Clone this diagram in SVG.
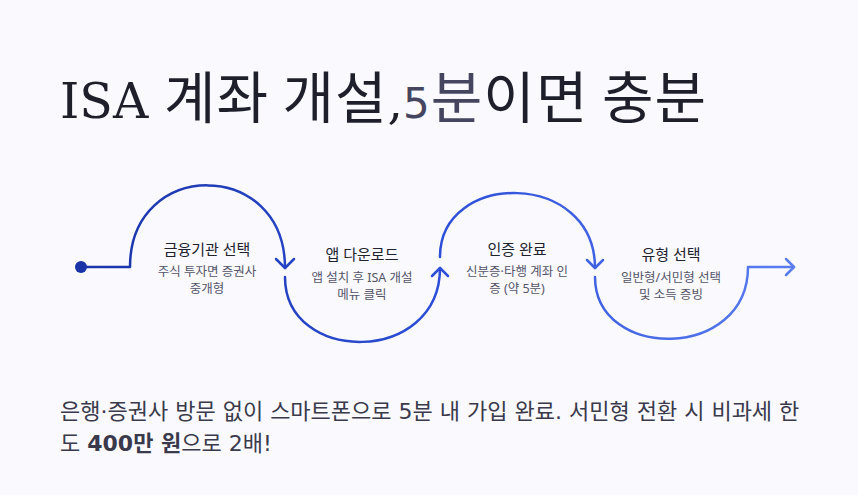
<svg xmlns="http://www.w3.org/2000/svg" width="858" height="495" viewBox="0 0 858 495">
<defs>
<linearGradient id="flow" gradientUnits="userSpaceOnUse" x1="80" y1="0" x2="800" y2="0">
<stop offset="0" stop-color="#1a34a8"/>
<stop offset="0.5" stop-color="#2d4ed8"/>
<stop offset="1" stop-color="#5b7ef0"/>
</linearGradient>
<style>
.bg{fill:#f9f9fe}
.title{font-family:"Noto Sans CJK KR","Noto Sans",sans-serif;font-size:56px;fill:#1f1f2b;letter-spacing:1px}
.serif{font-family:"DejaVu Serif","Liberation Serif",serif;font-size:49px;letter-spacing:0}
.accent{fill:#454560}
.line{fill:none;stroke:url(#flow);stroke-width:2.5;stroke-linecap:round;stroke-linejoin:round}
.head{fill:none;stroke:url(#flow);stroke-width:2.5;stroke-linecap:round;stroke-linejoin:round}
.st{font-family:"Noto Sans","Noto Sans CJK KR",sans-serif;font-size:15px;fill:#22222e;text-anchor:middle}
.sd{font-family:"Noto Sans","Noto Sans CJK KR",sans-serif;font-size:12.5px;fill:#55556a;text-anchor:middle}
.body{font-family:"DejaVu Sans","Noto Sans CJK KR",sans-serif;font-size:22px;fill:#3a3a4c}
</style>
</defs>
<rect class="bg" x="0" y="0" width="858" height="495"/>
<g id="title">
<text class="title" x="60" y="118"><tspan class="serif">ISA </tspan>계좌 개설<tspan class="serif">,</tspan><tspan class="accent"><tspan font-family="DejaVu Sans" font-size="42">5</tspan>분</tspan>이면 충분</text>
</g>
<g id="connectors">
<path class="line" d="M80,267 H130 C130,158 285,158 285,268"/>
<path class="head" d="M276,259 L285,268 L294,259"/>
<path class="line" d="M285,277 C285,365 440,365 440,268"/>
<path class="head" d="M432,276 L440,268 L448,276"/>
<path class="line" d="M440,257 C440,170 595,170 595,268"/>
<path class="head" d="M587,260 L595,268 L603,260"/>
<path class="line" d="M595,277 C595,361 748,361 748,267 H794"/>
<path class="head" d="M786,259 L794,267 L786,275"/>
</g>
<g id="start">
<circle cx="81" cy="267" r="6" fill="#1a34a8"/>
</g>
<g id="step1">
<text class="st" x="207" y="255">금융기관 선택</text>
<text class="sd" x="207" y="276">주식 투자면 증권사</text>
<text class="sd" x="207" y="293">중개형</text>
</g>
<g id="step2">
<text class="st" x="362" y="260">앱 다운로드</text>
<text class="sd" x="362" y="282">앱 설치 후 ISA 개설</text>
<text class="sd" x="362" y="299">메뉴 클릭</text>
</g>
<g id="step3">
<text class="st" x="517" y="255">인증 완료</text>
<text class="sd" x="517" y="276">신분증·타행 계좌 인</text>
<text class="sd" x="517" y="293">증 (약 5분)</text>
</g>
<g id="step4">
<text class="st" x="671" y="260">유형 선택</text>
<text class="sd" x="671" y="282">일반형/서민형 선택</text>
<text class="sd" x="671" y="299">및 소득 증빙</text>
</g>
<g id="summary">
<text class="body" x="60" y="419">은행·증권사 방문 없이 스마트폰으로 5분 내 가입 완료. 서민형 전환 시 비과세 한</text>
<text class="body" x="60" y="451">도 <tspan font-weight="700">400만 원</tspan>으로 2배!</text>
</g>
</svg>
